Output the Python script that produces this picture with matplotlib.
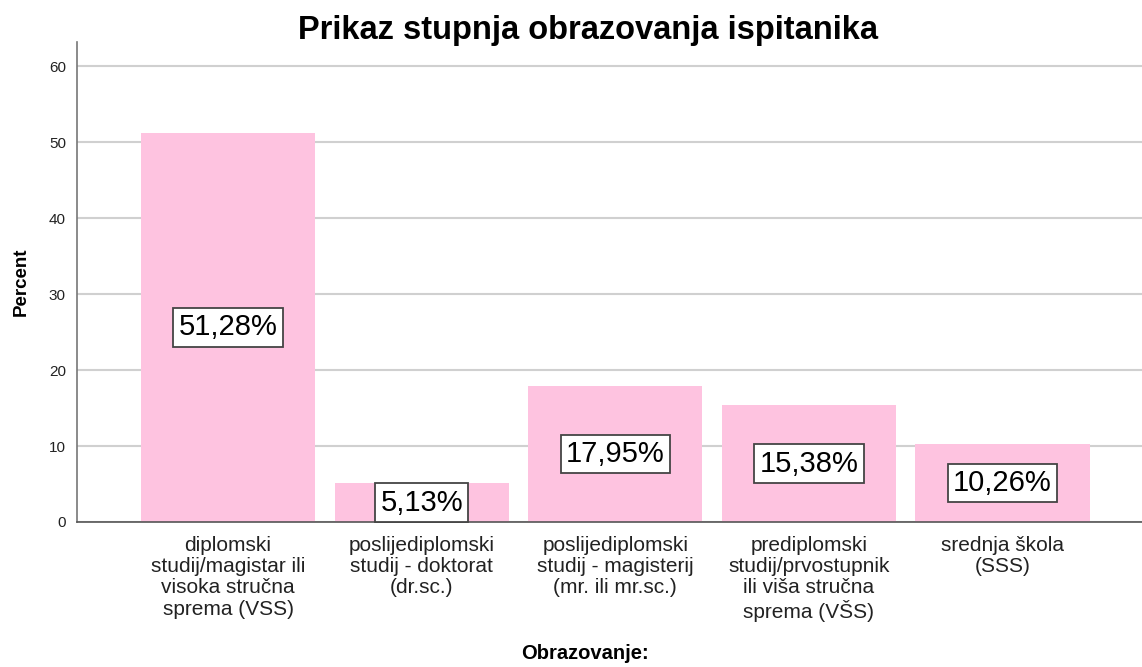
import numpy as np
import matplotlib.pyplot as plt

plt.rcParams['font.family'] = ['Liberation Sans', 'DejaVu Sans']

categories = [
    "diplomski\nstudij/magistar ili\nvisoka stručna\nsprema (VSS)",
    "poslijediplomski\nstudij - doktorat\n(dr.sc.)",
    "poslijediplomski\nstudij - magisterij\n(mr. ili mr.sc.)",
    "prediplomski\nstudij/prvostupnik\nili viša stručna\nsprema (VŠS)",
    "srednja škola\n(SSS)",
]
percent = [51.28, 5.13, 17.95, 15.38, 10.26]
yticks = [0, 10, 20, 30, 40, 50, 60]

fig = plt.figure(figsize=(11.42, 6.67), dpi=100)
ax = fig.add_axes([0.0674, 0.2174, 0.9326, 0.7196])

x = np.arange(len(categories))
ax.bar(x, percent, width=0.9, color="#fec3e0", zorder=2)

# value labels in boxes, halfway up each bar
for xi, v in zip(x, percent):
    ax.text(xi, v / 2, f"{v:.2f}%".replace(".", ","), ha="center", va="center",
            fontsize=21, zorder=3,
            bbox=dict(boxstyle="square,pad=0.18", fc="white", ec="#444444", lw=1.3))

ax.set_xlim(-0.78, 4.72)
ax.set_ylim(0, 63.2)
ax.set_yticks(yticks)
ax.set_xticks(x)
ax.set_xticklabels(categories, fontsize=15, linespacing=1.15, color="#222222")
ax.tick_params(axis="y", length=0, pad=8, labelsize=11, labelcolor="#222222")
ax.tick_params(axis="x", length=0, pad=10)
ax.yaxis.grid(True, color="#d0d0d0", lw=1.5, zorder=1)

for s in ["top", "right"]:
    ax.spines[s].set_visible(False)
ax.spines["left"].set_color("#777777")
ax.spines["bottom"].set_color("#555555")
ax.spines["left"].set_linewidth(1.2)
ax.spines["bottom"].set_linewidth(1.2)

ax.set_ylabel("Percent", fontsize=13.5, fontweight="bold", labelpad=14)
fig.text(0.512, 0.012, "Obrazovanje:", ha="center", va="baseline", fontsize=14.5, fontweight="bold")
fig.text(0.515, 0.9415, "Prikaz stupnja obrazovanja ispitanika", ha="center", va="baseline",
         fontsize=23.5, fontweight="bold")

fig.savefig("out.png", dpi=100)
